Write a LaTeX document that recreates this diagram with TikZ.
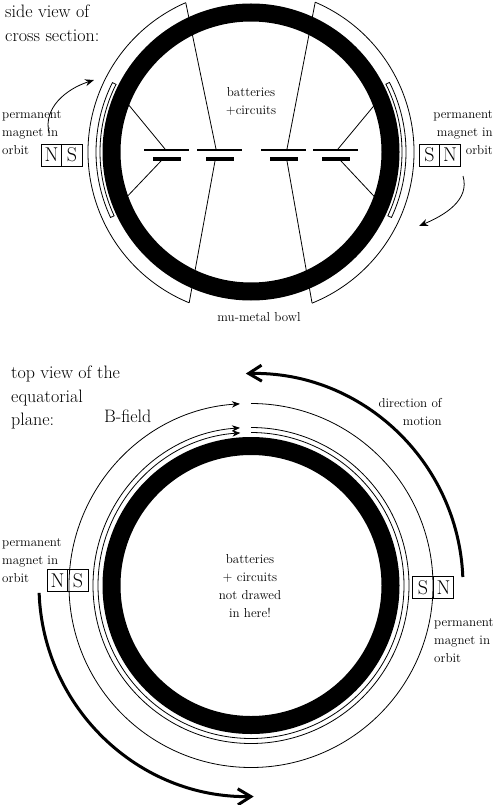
\documentclass[tikz,border=0pt]{standalone}
\usepackage{tikz}
\usetikzlibrary{arrows.meta,positioning}

\begin{document}
\begin{tikzpicture}[
      x=1pt, y=1pt,
      wire/.style={line width=0.8pt},
      ring/.style={line width=18pt},
      field/.style={wire, -{Stealth[length=8pt,width=6.5pt]}},
      swing/.style={wire, -{Stealth[length=9pt,width=7pt]}},
      motion/.style={line width=3pt, -{Straight Barb[length=13pt,width=16pt]}},
      plateplus/.style={fill, inner sep=0pt, minimum width=45pt, minimum height=1.6pt},
      plateminus/.style={fill, inner sep=0pt, minimum width=28pt, minimum height=4pt},
      pole/.style={draw, line width=0.8pt, inner sep=0pt, outer sep=0pt, minimum width=20.5pt,
        minimum height=22pt, font=\fontsize{20}{20}\selectfont},
      heading/.style={font=\fontsize{18}{23.5}\selectfont, align=left, anchor=north west, inner sep=0pt},
      note/.style={font=\fontsize{13}{18}\selectfont, inner sep=0pt},
    ]
    \useasboundingbox (0,0) rectangle (496,-805);

    % Side view: plates
    \foreach \n/\x/\a/\b in {1/166.5/165/161, 2/219.5/216/215, 3/283.5/287/287, 4/335.5/338/341} {
      \node[plateplus] (plus\n) at (\x,-150) {};
      \node[plateminus] (minus\n) at (\x,-159) {};
      \coordinate (top\n) at (\a,-149);
      \coordinate (bot\n) at (\b,-161);
    }

    % Side view: bowl and shells
    \begin{scope}[shift={(251,-152)}]
      \draw[wire] (113.6:163) coordinate (bowlA) arc[start angle=113.6, end angle=247.7, radius=163] coordinate (bowlB);
      \draw[wire] (66.8:163) coordinate (bowlC) arc[start angle=66.8, end angle=-68, radius=163] coordinate (bowlD);
      \draw[wire] (153.4:155) arc[start angle=153.4, end angle=205, radius=155]
        -- (205:151) arc[start angle=205, end angle=153.4, radius=151] -- cycle;
      \draw[wire] (26.7:155) arc[start angle=26.7, end angle=-25, radius=155]
        -- (-25:151) arc[start angle=-25, end angle=26.7, radius=151] -- cycle;
      \coordinate (rimA) at (158:135);
      \coordinate (rimB) at (200.5:135);
      \coordinate (rimC) at (21.5:135);
      \coordinate (rimD) at (-20.7:135);
    \end{scope}

    % Wires to the plates
    \draw[wire] (bowlA) -- (top2);
    \draw[wire] (bowlB) -- (bot2);
    \draw[wire] (bowlC) -- (top3);
    \draw[wire] (bowlD) -- (bot3);
    \draw[wire] (rimA) -- (top1);
    \draw[wire] (rimB) -- (bot1);
    \draw[wire] (rimC) -- (top4);
    \draw[wire] (rimD) -- (bot4);

    \node[ring, draw, circle, inner sep=0pt, minimum size=279pt, outer sep=0pt] (bowlring) at (251,-152) {};

    % Side view: magnets
    \node[pole] (sideN) at (51.5,-155) {N};
    \node[pole, right=0pt of sideN] (sideS) {S};
    \node[pole] (sideSr) at (429.5,-155) {S};
    \node[pole, right=0pt of sideSr] (sideNr) {N};
    \coordinate (swingA) at (49,-133);
    \coordinate (swingB) at (94,-80);
    \coordinate (swingC) at (463,-176);
    \coordinate (swingD) at (419,-226);
    \draw[swing] (swingA) .. controls (43,-108) and (66,-89) .. (swingB);
    \draw[swing] (swingC) .. controls (470,-200) and (445,-215) .. (swingD);

    % Side view: labels
    \node[heading] (sidetitle) at (5,-5) {side view of\\cross section:};
    \node[note, align=left, anchor=north west] (sidemagL) at (2,-110.5) {permanent\\magnet in\\orbit};
    \node[note, align=right, anchor=north east] (sidemagR) at (493,-110.5) {permanent\\magnet in\\orbit};
    \node[note, align=center] (sidebat) at (251,-101) {batteries\\+circuits};
    \node[note] (bowllabel) at (259,-317) {mu-metal bowl};

    % Top view: field lines
    \begin{scope}[shift={(251,-585.5)}]
      \foreach \r/\e in {182/-266.5, 158/-266, 153/-266} {
        \draw[field] (90:\r) arc[start angle=90, end angle=\e, radius=\r];
      }
      \draw[motion] (2.3:212) arc[start angle=2.3, end angle=91.4, radius=212];
      \draw[motion] (182:212) arc[start angle=182, end angle=271, radius=211];
    \end{scope}

    \node[ring, draw, circle, inner sep=0pt, minimum size=279pt, outer sep=0pt] (topring) at (251,-585.5) {};

    % Top view: magnets
    \node[pole] (topN) at (57.5,-580.5) {N};
    \node[pole, right=0pt of topN] (topS) {S};
    \node[pole] (topSr) at (423,-587.5) {S};
    \node[pole, right=0pt of topSr] (topNr) {N};

    % Top view: labels
    \node[heading] (toptitle) at (11,-366) {top view of the\\equatorial\\plane:};
    \node[heading] (bfield) at (104,-410) {B-field};
    \node[note, align=right, anchor=north east] (motionlabel) at (442,-398.5) {direction of\\motion};
    \node[note, align=left, anchor=north west] (topmagL) at (2,-538) {permanent\\magnet in\\orbit};
    \node[note, align=left, anchor=north west] (topmagR) at (434,-618.5) {permanent\\magnet in\\orbit};
    \node[note, align=center] (topbat) at (250,-586) {batteries\\+ circuits\\not drawed\\in here!};
  \end{tikzpicture}
\end{document}
